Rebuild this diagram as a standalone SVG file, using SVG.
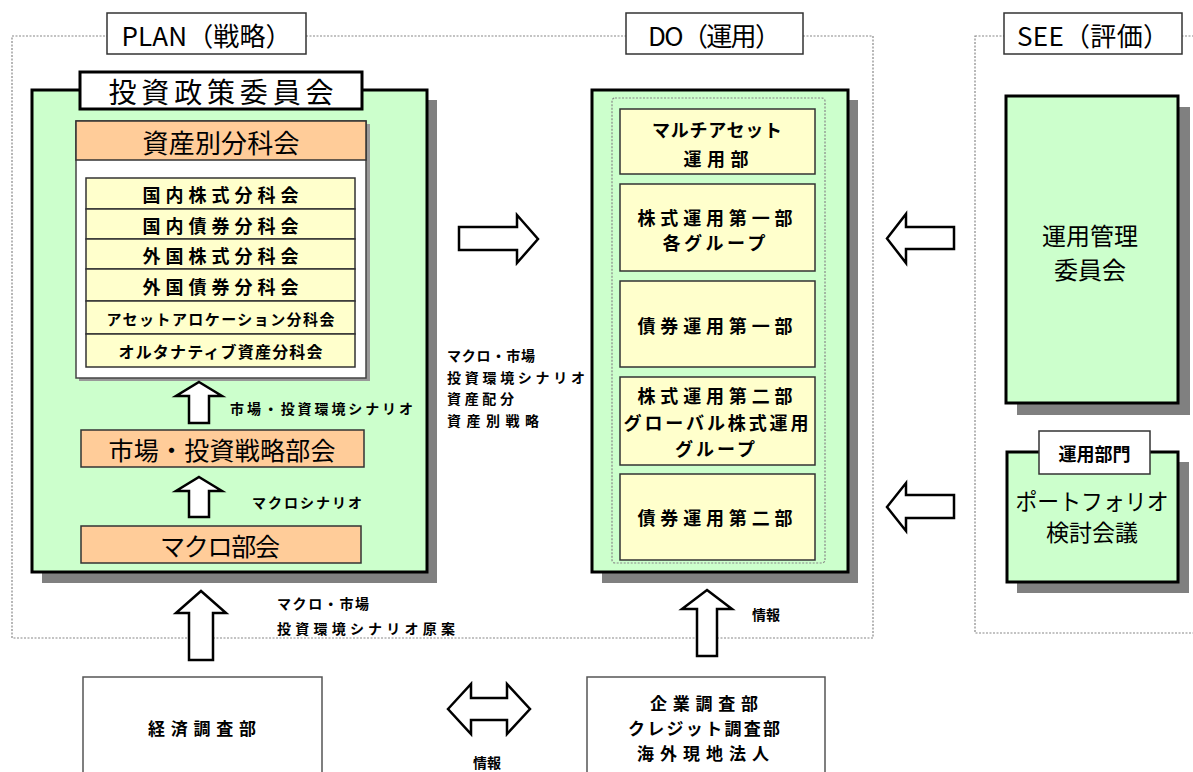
<svg xmlns="http://www.w3.org/2000/svg" width="1193" height="772" viewBox="0 0 1193 772">
<style>
text{font-family:"Noto Sans CJK JP","Liberation Sans",sans-serif;fill:#000;text-anchor:middle;dominant-baseline:central}
.lbl{fill:#fff;stroke:#333;stroke-width:1.5}
.region{fill:none;stroke:#888;stroke-width:1.2;stroke-dasharray:2 1.5}
.green{fill:#ccffcc;stroke:#000;stroke-width:3}
.shadow{fill:#808080}
.orange{fill:#ffcc99;stroke:#333;stroke-width:1.5}
.yellow{fill:#ffffcc;stroke:#333;stroke-width:1.5}
.white{fill:#fff;stroke:#444;stroke-width:1.5}
.arrow{fill:#fff;stroke:#000;stroke-width:2.5;stroke-linejoin:miter}
.small{font-size:14px;font-weight:bold;text-anchor:start}
.row{font-size:18px;font-weight:bold}
.do{font-size:18px;font-weight:bold}
</style>

<!-- regions -->
<g id="regions">
  <rect class="region" x="12" y="36" width="861" height="602"/>
  <rect class="region" x="975" y="36" width="240" height="597"/>
  <g id="plan-label"><rect class="lbl" x="107" y="13" width="199" height="41"/><text x="206.5" y="34" font-size="26" textLength="170" lengthAdjust="spacing">PLAN（戦略）</text></g>
  <g id="do-label"><rect class="lbl" x="626" y="13" width="177" height="41"/><text x="714.5" y="34" font-size="26" textLength="133" lengthAdjust="spacing">DO（運用）</text></g>
  <g id="see-label"><rect class="lbl" x="1004" y="13" width="178" height="41"/><text x="1093" y="34" font-size="26" textLength="152" lengthAdjust="spacing">SEE（評価）</text></g>
</g>

<!-- PLAN panel -->
<g id="plan-panel">
  <rect class="shadow" x="42" y="100" width="395" height="483"/>
  <rect class="green" x="32" y="90" width="395" height="482"/>
</g>
<g id="toushi-seisaku">
  <rect fill="#fff" stroke="#000" stroke-width="3" x="80" y="72" width="282" height="37"/>
  <text x="221" y="91" font-size="28" textLength="225" lengthAdjust="spacing">投資政策委員会</text>
</g>
<g id="shisanbetsu">
  <rect fill="#999" x="79" y="124" width="291" height="257"/>
  <rect class="white" x="76" y="121" width="290" height="257"/>
  <rect class="orange" x="76" y="121" width="290" height="39"/>
  <text x="221" y="141" font-size="26" textLength="157" lengthAdjust="spacing">資産別分科会</text>
</g>
<g id="bunkakai-rows">
  <g id="row1"><rect class="yellow" x="86" y="178" width="269" height="31"/><text class="row" x="220.5" y="194" textLength="156" lengthAdjust="spacing">国内株式分科会</text></g>
  <g id="row2"><rect class="yellow" x="86" y="209" width="269" height="30"/><text class="row" x="220.5" y="224.5" textLength="156" lengthAdjust="spacing">国内債券分科会</text></g>
  <g id="row3"><rect class="yellow" x="86" y="239" width="269" height="30"/><text class="row" x="220.5" y="254.5" textLength="156" lengthAdjust="spacing">外国株式分科会</text></g>
  <g id="row4"><rect class="yellow" x="86" y="269" width="269" height="32"/><text class="row" x="220.5" y="285.5" textLength="156" lengthAdjust="spacing">外国債券分科会</text></g>
  <g id="row5"><rect class="yellow" x="86" y="301" width="269" height="33"/><text x="220.5" y="318" font-size="15" font-weight="bold" textLength="228" lengthAdjust="spacing">アセットアロケーション分科会</text></g>
  <g id="row6"><rect class="yellow" x="86" y="334" width="269" height="33"/><text x="220.5" y="351" font-size="16" font-weight="bold" textLength="204" lengthAdjust="spacing">オルタナティブ資産分科会</text></g>
</g>
<g id="shijou-bukai">
  <rect class="orange" x="81" y="430" width="283" height="37"/>
  <text x="222" y="449" font-size="25" textLength="227" lengthAdjust="spacing">市場・投資戦略部会</text>
</g>
<g id="macro-bukai">
  <rect class="orange" x="81" y="526" width="280" height="37"/>
  <text x="220" y="545" font-size="25" textLength="120" lengthAdjust="spacing">マクロ部会</text>
</g>

<!-- DO panel -->
<g id="do-panel">
  <rect class="shadow" x="602" y="100" width="256" height="483"/>
  <rect class="green" x="592" y="90" width="256" height="482"/>
  <rect fill="none" stroke="#888" stroke-width="1.2" stroke-dasharray="2 1.5" x="612" y="98" width="213" height="465" rx="3"/>
</g>
<g id="multi-asset"><rect class="yellow" x="620" y="109" width="195" height="65"/><text class="do" x="717" y="129" textLength="130" lengthAdjust="spacing">マルチアセット</text><text class="do" x="716" y="158" textLength="65" lengthAdjust="spacing">運用部</text></g>
<g id="kabu1"><rect class="yellow" x="620" y="184" width="195" height="87"/><text class="do" x="715" y="217" textLength="155" lengthAdjust="spacing">株式運用第一部</text><text class="do" x="714" y="242" textLength="103" lengthAdjust="spacing">各グループ</text></g>
<g id="saiken1"><rect class="yellow" x="620" y="281" width="195" height="86"/><text class="do" x="715" y="325" textLength="155" lengthAdjust="spacing">債券運用第一部</text></g>
<g id="kabu2"><rect class="yellow" x="620" y="377" width="195" height="88"/><text class="do" x="715" y="395" textLength="155" lengthAdjust="spacing">株式運用第二部</text><text class="do" x="716" y="422" textLength="185" lengthAdjust="spacing">グローバル株式運用</text><text class="do" x="715" y="448" textLength="80" lengthAdjust="spacing">グループ</text></g>
<g id="saiken2"><rect class="yellow" x="620" y="474" width="195" height="86"/><text class="do" x="715" y="517" textLength="155" lengthAdjust="spacing">債券運用第二部</text></g>

<!-- SEE -->
<g id="unyou-kanri">
  <rect class="shadow" x="1017" y="107" width="173" height="308"/>
  <rect class="green" x="1006" y="96" width="172" height="307"/>
  <text x="1090" y="234" font-size="24">運用管理</text>
  <text x="1090" y="268" font-size="24">委員会</text>
</g>
<g id="portfolio">
  <rect class="shadow" x="1017" y="462" width="172" height="131"/>
  <rect class="green" x="1007" y="452" width="171" height="130"/>
  <rect fill="#fff" stroke="#333" stroke-width="1.5" x="1039" y="431" width="111" height="43"/>
  <text x="1094.5" y="453" font-size="18" font-weight="bold">運用部門</text>
  <text x="1092" y="500" font-size="23" textLength="153" lengthAdjust="spacingAndGlyphs">ポートフォリオ</text>
  <text x="1092" y="531" font-size="23">検討会議</text>
</g>

<!-- bottom boxes -->
<g id="keizai">
  <rect fill="#fff" stroke="#555" stroke-width="1.5" x="83" y="677" width="239" height="110"/>
  <text x="202" y="727" font-size="17" font-weight="bold" textLength="108" lengthAdjust="spacing">経済調査部</text>
</g>
<g id="kigyou">
  <rect fill="#fff" stroke="#555" stroke-width="1.5" x="587" y="677" width="238" height="110"/>
  <text x="704" y="702" font-size="17" font-weight="bold" textLength="108" lengthAdjust="spacing">企業調査部</text>
  <text x="704" y="727" font-size="17" font-weight="bold" textLength="152" lengthAdjust="spacing">クレジット調査部</text>
  <text x="703" y="752" font-size="17" font-weight="bold" textLength="132" lengthAdjust="spacing">海外現地法人</text>
</g>

<!-- connectors -->
<g id="connectors">
  <path class="arrow" d="M199,382 L222,396 L209,396 L209,423 L189,423 L189,396 L176,396 Z"/>
  <path class="arrow" d="M199,477 L222,491 L209,491 L209,517 L189,517 L189,491 L176,491 Z"/>
  <path class="arrow" d="M201,591 L226,613 L213,613 L213,660 L189,660 L189,613 L176,613 Z"/>
  <path class="arrow" d="M707,590 L732,609 L717,609 L717,656 L697,656 L697,609 L682,609 Z"/>
  <path class="arrow" d="M459,227 L517,227 L517,215 L538,239 L517,263 L517,250 L459,250 Z"/>
  <path class="arrow" d="M887,238.5 L906,214 L906,227 L954,227 L954,249 L906,249 L906,263 Z"/>
  <path class="arrow" d="M887,507 L906,483 L906,495 L954,495 L954,518 L906,518 L906,531 Z"/>
  <path class="arrow" d="M448,709 L471,684 L471,698 L507,698 L507,684 L530,709 L507,734 L507,720 L471,720 L471,734 Z"/>
</g>

<!-- connector labels -->
<g id="connector-labels">
  <text class="small" x="230" y="408" textLength="183" lengthAdjust="spacing">市場・投資環境シナリオ</text>
  <text class="small" x="252" y="502" textLength="110" lengthAdjust="spacing">マクロシナリオ</text>
  <text class="small" x="447" y="355" textLength="88" lengthAdjust="spacing">マクロ・市場</text>
  <text class="small" x="447" y="377" textLength="138" lengthAdjust="spacing">投資環境シナリオ</text>
  <text class="small" x="447" y="398" textLength="67" lengthAdjust="spacing">資産配分</text>
  <text class="small" x="447" y="420" textLength="92" lengthAdjust="spacing">資産別戦略</text>
  <text class="small" x="277" y="603" textLength="92" lengthAdjust="spacing">マクロ・市場</text>
  <text class="small" x="277" y="628" textLength="178" lengthAdjust="spacing">投資環境シナリオ原案</text>
  <text class="small" x="752" y="614">情報</text>
  <text class="small" x="473" y="762">情報</text>
</g>
</svg>
